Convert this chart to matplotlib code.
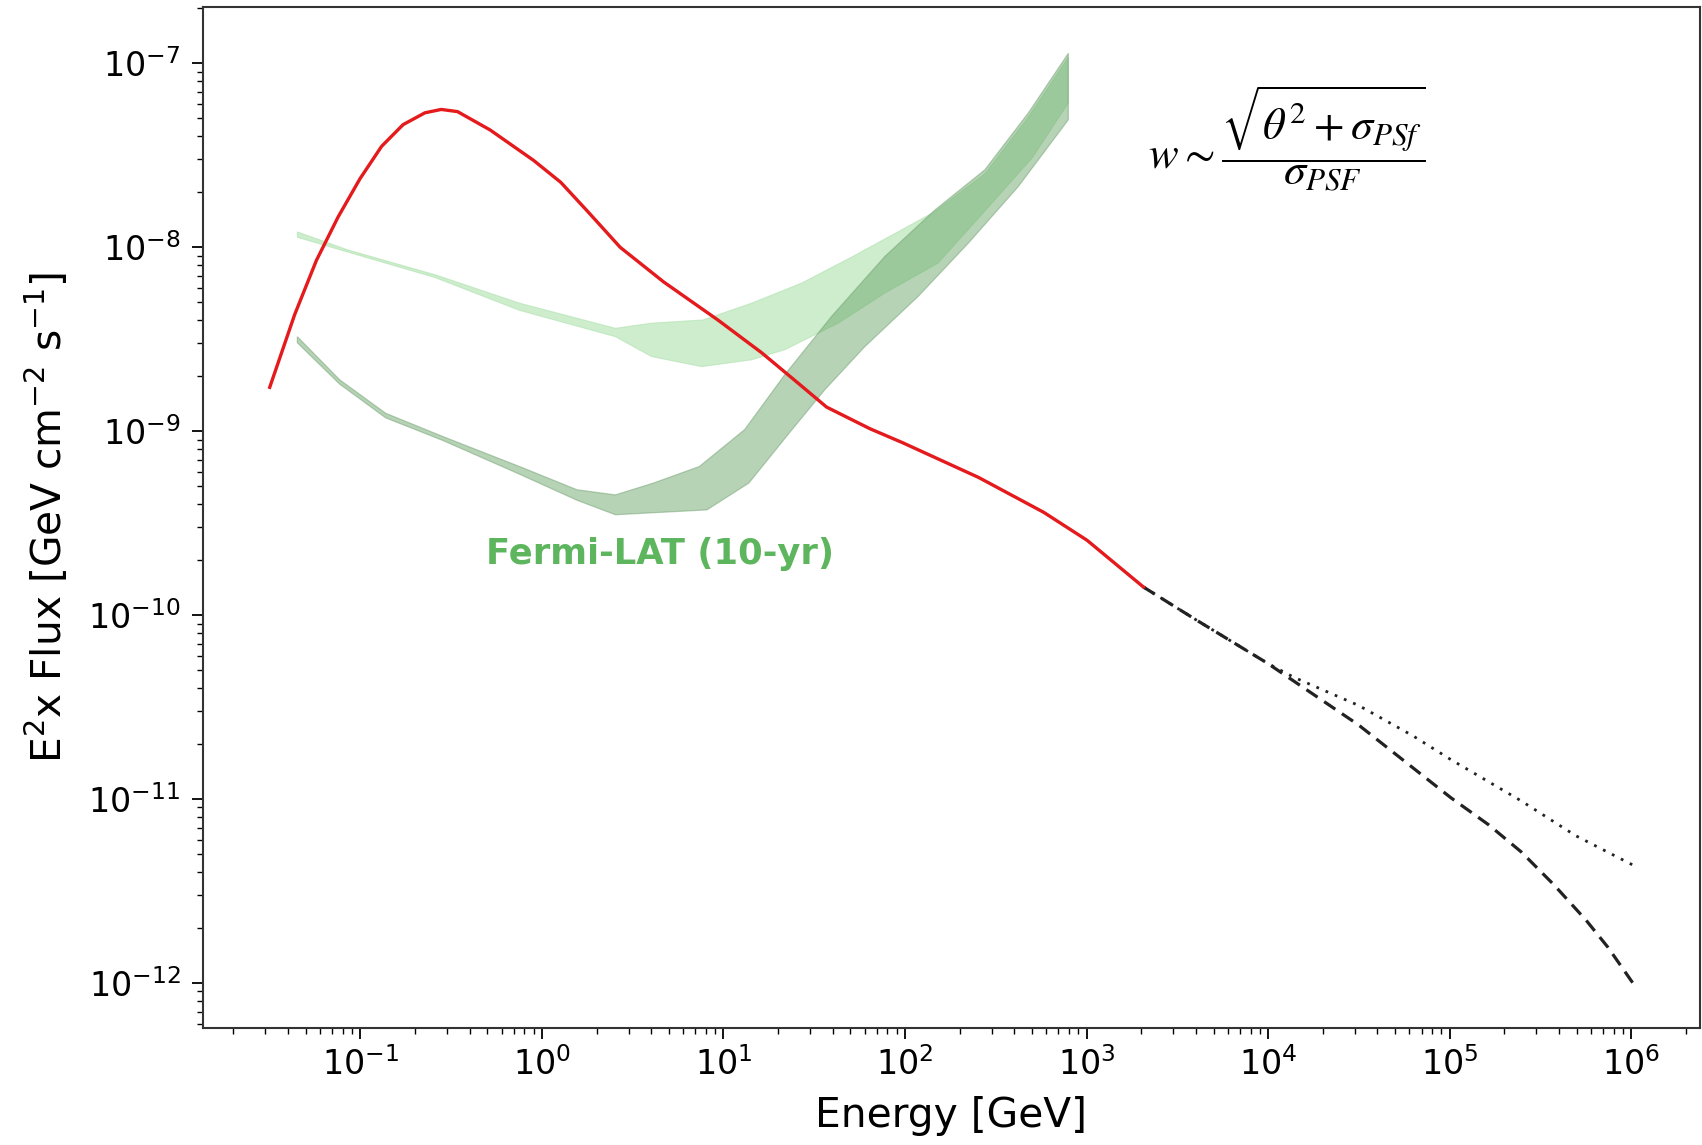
import numpy as np
import matplotlib.pyplot as plt

# model spectrum, solid red part (GeV, GeV cm-2 s-1)
e_model = [0.0317, 0.0435, 0.0573, 0.0755, 0.0995, 0.131, 0.172, 0.227, 0.279, 0.343,
           0.519, 0.90, 1.27, 1.79, 2.70, 4.69, 9.34, 16.2, 24.5, 37.0,
           64.1, 96.9, 254., 580., 1006., 2057.]
f_model = [1.73e-9, 4.30e-9, 8.47e-9, 1.46e-8, 2.35e-8, 3.53e-8, 4.63e-8, 5.37e-8, 5.60e-8, 5.45e-8,
           4.33e-8, 2.96e-8, 2.25e-8, 1.56e-8, 9.97e-9, 6.46e-9, 4.01e-9, 2.67e-9, 1.90e-9, 1.35e-9,
           1.03e-9, 8.65e-10, 5.60e-10, 3.62e-10, 2.55e-10, 1.42e-10]

# extrapolations above 2 TeV
e_dash = [2057., 3988., 9890., 31430., 1.013e5, 1.637e5, 2.477e5, 3.737e5, 5.648e5, 7.45e5, 1.02e6]
f_dash = [1.42e-10, 9.45e-11, 5.48e-11, 2.53e-11, 1.018e-11, 7.25e-12, 5.16e-12, 3.43e-12, 2.19e-12,
          1.56e-12, 1.0e-12]
e_dot = [2057., 3988., 9890., 13790., 31430., 62560., 1.013e5, 2.477e5, 4.93e5, 1.02e6]
f_dot = [1.42e-10, 9.45e-11, 5.48e-11, 4.60e-11, 3.23e-11, 2.21e-11, 1.64e-11, 9.77e-12, 6.33e-12, 4.38e-12]

# Fermi-LAT sensitivity band (darker)
dark_e_up = [0.045, 0.077, 0.138, 0.285, 0.753, 1.56, 2.54, 4.12, 7.37, 13.1,
             21.8, 39.4, 77.4, 146., 275., 477., 793.]
dark_f_up = [3.26e-9, 1.90e-9, 1.25e-9, 9.34e-10, 6.42e-10, 4.80e-10, 4.50e-10, 5.22e-10, 6.42e-10, 1.02e-9,
             2.03e-9, 4.20e-9, 8.89e-9, 1.59e-8, 2.63e-8, 5.35e-8, 1.13e-7]
dark_e_lo = [0.045, 0.077, 0.138, 0.285, 0.753, 1.56, 2.54, 8.11, 13.8, 23.5,
             36.2, 60.1, 118., 223., 420., 793.]
dark_f_lo = [3.02e-9, 1.80e-9, 1.18e-9, 8.89e-10, 5.83e-10, 4.21e-10, 3.51e-10, 3.73e-10, 5.22e-10, 1.00e-9,
             1.68e-9, 2.88e-9, 5.39e-9, 1.05e-8, 2.13e-8, 4.92e-8]

# second band (lighter)
light_e_up = [0.045, 0.085, 0.259, 0.753, 2.54, 4.02, 7.73, 14.3, 26.9, 50.7,
              95.6, 146., 276., 478., 793.]
light_f_up = [1.21e-8, 9.67e-9, 7.07e-9, 4.96e-9, 3.62e-9, 3.86e-9, 4.02e-9, 4.96e-9, 6.37e-9, 8.82e-9,
              1.24e-8, 1.56e-8, 2.51e-8, 5.09e-8, 1.075e-7]
light_e_lo = [0.045, 0.259, 0.753, 2.54, 4.02, 7.58, 14.3, 21.8, 42.9, 77.4,
              152., 291., 505., 793.]
light_f_lo = [1.13e-8, 6.82e-9, 4.53e-9, 3.26e-9, 2.54e-9, 2.24e-9, 2.44e-9, 2.77e-9, 3.86e-9, 5.62e-9,
              8.18e-9, 1.67e-8, 3.08e-8, 6.07e-8]

fig = plt.figure(figsize=(17.02, 11.45), dpi=100)
ax = fig.add_axes([0.1191, 0.1022, 0.8797, 0.8914])

ax.fill(light_e_up + light_e_lo[::-1], light_f_up + light_f_lo[::-1],
        facecolor='#90d890', edgecolor='#a0dca0', alpha=0.45, lw=0.8, zorder=1)
ax.fill(dark_e_up + dark_e_lo[::-1], dark_f_up + dark_f_lo[::-1],
        facecolor='#5f9f5f', edgecolor='#6a9a6a', alpha=0.45, lw=0.9, zorder=2)

ax.plot(e_model, f_model, color='#e41a1c', lw=2.4, zorder=4)
ax.plot(e_dash, f_dash, color='#222222', lw=2.3, ls=(0, (4.2, 2.5)), zorder=3)
ax.plot(e_dot, f_dot, color='#222222', lw=2.0, ls=(0, (1, 2.6)), zorder=3)

ax.set_xscale('log')
ax.set_yscale('log')
ax.set_xlim(0.01355, 2.388e6)
ax.set_ylim(5.70e-13, 2.01e-7)

ax.set_xlabel('Energy [GeV]', fontsize=29.3, labelpad=10)
ax.set_ylabel(r'E$^2$x Flux [GeV cm$^{-2}$ s$^{-1}$]', fontsize=29.3, labelpad=12)
ax.tick_params(which='major', labelsize=24, length=8, width=1.3)
ax.tick_params(which='minor', length=4, width=1)
ax.tick_params(axis='x', which='major', pad=6)
ax.tick_params(axis='y', which='major', pad=8)
for sp in ax.spines.values():
    sp.set_linewidth(1.5)
    sp.set_color('#333333')

ax.text(0.3054, 0.4644, 'Fermi-LAT (10-yr)', transform=ax.transAxes, color='#5db55d',
        fontsize=25.5, fontweight='bold', ha='center', va='center')

fig.text(0.756, 0.8795, r'$w\sim\dfrac{\sqrt{\theta^{2}+\sigma_{PSf}}}{\sigma_{PSF}}$',
         math_fontfamily='stix', fontsize=32, ha='center', va='center')

fig.savefig('out.png', dpi=100)
